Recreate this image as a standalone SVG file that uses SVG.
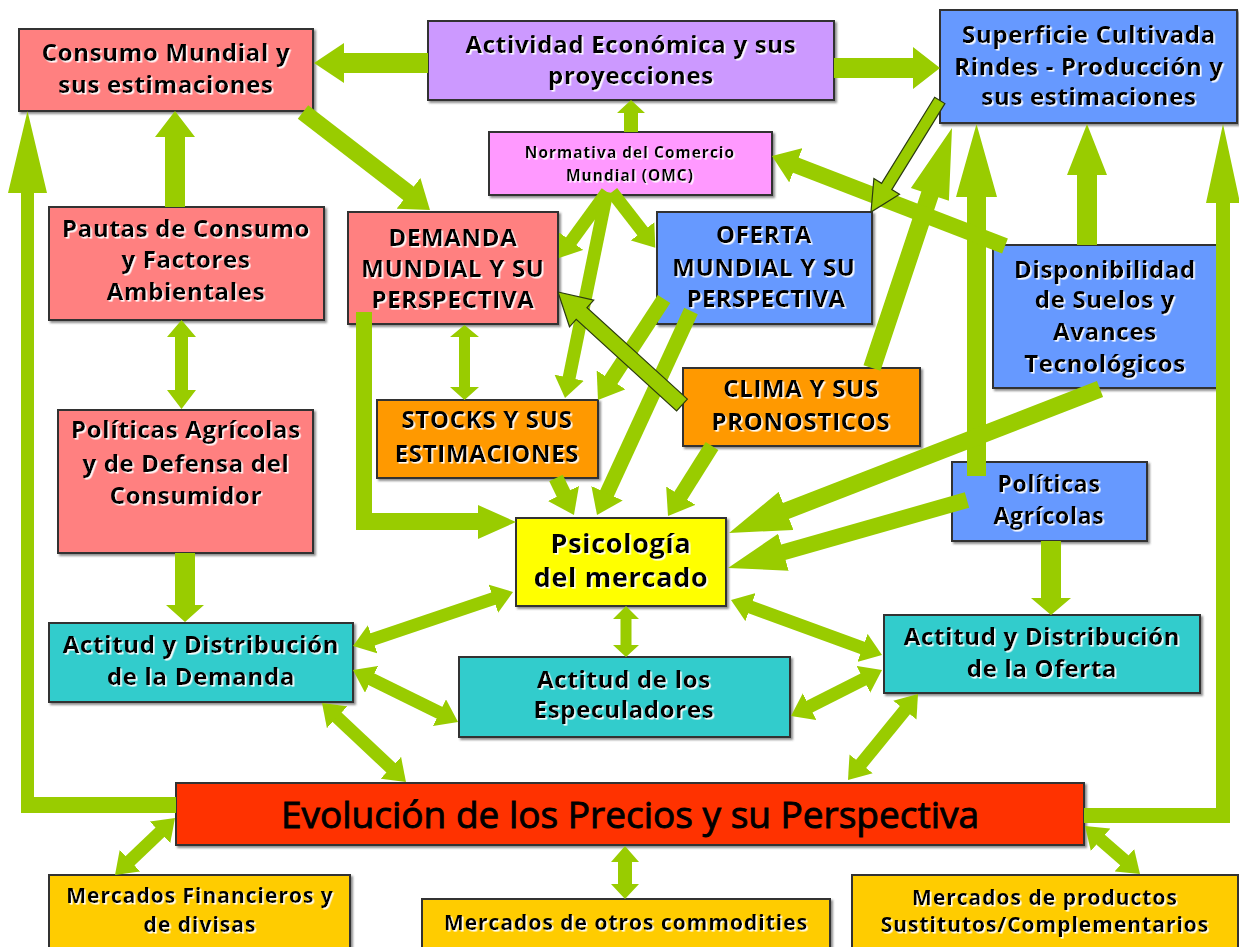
<svg xmlns="http://www.w3.org/2000/svg" width="1239" height="947" viewBox="0 0 1239 947">
<defs>
<style>
.b{stroke:#333;stroke-width:2}
.t{font-family:"Open Sans","Liberation Sans",sans-serif;font-weight:bold;fill:#000;text-anchor:middle;filter:url(#ts);font-size:24px;letter-spacing:0.7px}
.s{font-size:21px;letter-spacing:1px}
.c{stroke:#99CC00;fill:none;stroke-linecap:butt}
.p{fill:#99CC00;stroke:none}
.po{fill:#99CC00;stroke:#2a3a10;stroke-width:1.2;stroke-linejoin:miter}
.pink{fill:#FF8080}.purp{fill:#CC99FF}.blue{fill:#6699FF}.mag{fill:#FF99FF}.org{fill:#FF9900}.yel{fill:#FFFF00}.teal{fill:#33CCCC}.red{fill:#FF3300}.gold{fill:#FFCC00}
</style>
<filter id="ts" x="-5%" y="-20%" width="115%" height="150%"><feDropShadow dx="1.6" dy="1.6" stdDeviation="0.4" flood-color="#ffffff" flood-opacity="0.95"/></filter>
<filter id="bs" x="-5%" y="-5%" width="115%" height="120%"><feDropShadow dx="2" dy="2" stdDeviation="0.8" flood-color="#444" flood-opacity="0.6"/></filter>
<marker id="h" viewBox="0 0 1.6 2.3" markerUnits="strokeWidth" markerWidth="1.6" markerHeight="2.3" refX="0.6" refY="1.15" orient="auto-start-reverse"><path d="M0,0 L1.6,1.15 L0,2.3 Z" fill="#99CC00"/></marker>
<marker id="hl" viewBox="0 0 3.6 2.4" markerUnits="strokeWidth" markerWidth="3.6" markerHeight="2.4" refX="1.5" refY="1.2" orient="auto"><path d="M0,0 L3.6,1.2 L0,2.4 Z" fill="#99CC00"/></marker>
</defs>
<rect width="1239" height="947" fill="#fff"/>

<g id="n-consumo"><rect class="b pink" filter="url(#bs)" x="19" y="29" width="294" height="82"/><text class="t" x="166" y="61">Consumo Mundial y</text><text class="t" x="166" y="93">sus estimaciones</text></g>
<g id="n-actividad"><rect class="b purp" filter="url(#bs)" x="428" y="21" width="406" height="79"/><text class="t" x="631" y="53">Actividad Económica y sus</text><text class="t" x="631" y="84">proyecciones</text></g>
<g id="n-superficie"><rect class="b blue" filter="url(#bs)" x="940" y="10" width="297" height="113"/><text class="t" x="1089" y="43">Superficie Cultivada</text><text class="t" x="1089" y="75">Rindes - Producción y</text><text class="t" x="1089" y="105">sus estimaciones</text></g>
<g id="n-normativa"><rect class="b mag" filter="url(#bs)" x="489" y="132" width="283" height="63"/><text class="t" x="630" y="158" style="font-size:15.5px;letter-spacing:1px">Normativa del Comercio</text><text class="t" x="630" y="181" style="font-size:15.5px;letter-spacing:1px">Mundial (OMC)</text></g>
<g id="n-pautas"><rect class="b pink" filter="url(#bs)" x="49" y="207" width="275" height="113"/><text class="t" x="186" y="237">Pautas de Consumo</text><text class="t" x="186" y="268">y Factores</text><text class="t" x="186" y="300">Ambientales</text></g>
<g id="n-demanda"><rect class="b pink" filter="url(#bs)" x="348" y="212" width="210" height="112"/><text class="t" x="453" y="246">DEMANDA</text><text class="t" x="453" y="277">MUNDIAL Y SU</text><text class="t" x="453" y="308">PERSPECTIVA</text></g>
<g id="n-oferta"><rect class="b blue" filter="url(#bs)" x="657" y="212" width="215" height="112"/><text class="t" x="764" y="243">OFERTA</text><text class="t" x="764" y="276">MUNDIAL Y SU</text><text class="t" x="766" y="307" style="letter-spacing:0.3px">PERSPECTIVA</text></g>
<g id="n-disponibilidad"><rect class="b blue" filter="url(#bs)" x="993" y="245" width="224" height="143"/><text class="t" x="1105" y="278">Disponibilidad</text><text class="t" x="1105" y="308">de Suelos y</text><text class="t" x="1105" y="340">Avances</text><text class="t" x="1105" y="372">Tecnológicos</text></g>
<g id="n-stocks"><rect class="b org" filter="url(#bs)" x="377" y="400" width="221" height="78"/><text class="t" x="487" y="428">STOCKS Y SUS</text><text class="t" x="487" y="462">ESTIMACIONES</text></g>
<g id="n-clima"><rect class="b org" filter="url(#bs)" x="683" y="368" width="237" height="78"/><text class="t" x="801" y="397">CLIMA Y SUS</text><text class="t" x="801" y="430">PRONOSTICOS</text></g>
<g id="n-politicas-consumidor"><rect class="b pink" filter="url(#bs)" x="58" y="410" width="255" height="143"/><text class="t" x="186" y="438">Políticas Agrícolas</text><text class="t" x="186" y="472">y de Defensa del</text><text class="t" x="186" y="504">Consumidor</text></g>
<g id="n-psicologia"><rect class="b yel" filter="url(#bs)" x="516" y="518" width="210" height="88"/><text class="t" x="621" y="553" style="font-size:27px">Psicología</text><text class="t" x="621" y="587" style="font-size:27px">del mercado</text></g>
<g id="n-politicas-agricolas"><rect class="b blue" filter="url(#bs)" x="952" y="462" width="195" height="79"/><text class="t" x="1049" y="492" style="font-size:23px">Políticas</text><text class="t" x="1049" y="524" style="font-size:23px">Agrícolas</text></g>
<g id="n-actitud-demanda"><rect class="b teal" filter="url(#bs)" x="49" y="623" width="304" height="79"/><text class="t" x="201" y="653">Actitud y Distribución</text><text class="t" x="201" y="685">de la Demanda</text></g>
<g id="n-especuladores"><rect class="b teal" filter="url(#bs)" x="459" y="657" width="331" height="80"/><text class="t" x="624" y="688">Actitud de los</text><text class="t" x="624" y="718">Especuladores</text></g>
<g id="n-actitud-oferta"><rect class="b teal" filter="url(#bs)" x="884" y="615" width="316" height="78"/><text class="t" x="1042" y="645">Actitud y Distribución</text><text class="t" x="1042" y="677">de la Oferta</text></g>
<g id="n-evolucion"><rect class="b red" filter="url(#bs)" x="176" y="783" width="908" height="62"/><text class="t" x="630" y="828" style="font-size:37px;font-weight:normal;letter-spacing:0;stroke:#000;stroke-width:0.9;filter:none">Evolución de los Precios y su Perspectiva</text></g>
<g id="n-financieros"><rect class="b gold" filter="url(#bs)" x="49" y="875" width="301" height="80"/><text class="t s" x="200" y="903">Mercados Financieros y</text><text class="t s" x="200" y="932">de divisas</text></g>
<g id="n-commodities"><rect class="b gold" filter="url(#bs)" x="422" y="899" width="408" height="56"/><text class="t s" x="626" y="930">Mercados de otros commodities</text></g>
<g id="n-sustitutos"><rect class="b gold" filter="url(#bs)" x="852" y="875" width="386" height="80"/><text class="t s" x="1045" y="905">Mercados de productos</text><text class="t s" x="1045" y="932">Sustitutos/Complementarios</text></g>

<g id="connectors">
<polygon class="p" points="428,53 344,53 344,43 314,63 344,83 344,73 428,73"/>
<polygon class="p" points="834,58 913,58 913,47 940,68 913,89 913,78 834,78"/>
<polygon class="p" points="624,132 624,113 617,113 631,100 645,113 638,113 638,132"/>
<polygon class="p" points="165,207 165,137 155,137 175,111 195,137 185,137 185,207"/>
<polygon class="p" points="176,797 34,797 34,193 47,193 27.5,111 8,193 21,193 21,813 176,813"/>
<polygon class="p" points="1084,808 1216,808 1216,203 1206,203 1223,124 1240,203 1230,203 1230,823 1084,823"/>
<polygon class="p" points="1077,245 1077,175 1067,175 1087,124 1107,175 1097,175 1097,245"/>
<polygon class="p" points="967,476 967,197 956,197 976.5,124 997,197 986,197 986,476"/>
<polygon class="p" points="880.5,370.8 938.4,197.2 948.9,200.7 952,128 910.9,188.1 921.4,191.6 863.5,365.2"/>
<polygon class="p" points="175,337 167,337 181.5,320 196,337 188,337 188,390 196,390 181.5,409 167,390 175,390"/>
<polygon class="p" points="175,553 195,553 195,605 204,605 185,622 166,605 175,605"/>
<polygon class="p" points="459,337 450,337 464.5,325 479,337 470,337 470,387 479,387 464.5,400 450,387 459,387"/>
<polygon class="p" points="620.5,619 613,619 626,606 639,619 631.5,619 631.5,645 639,645 626,657 613,645 620.5,645"/>
<polygon class="p" points="618,862 611,862 625,846 639,862 632,862 632,884 639,884 625,899 611,884 618,884"/>
<polygon class="p" points="1041,541 1061,541 1061,598 1071,598 1051,615 1031,598 1041,598"/>
<polygon class="p" points="356,312 372,312 372,513 478,513 478,505 516,522 478,539 478,530 356,530"/>
<line class="c" stroke-width="17" marker-end="url(#h)" x1="303" y1="112" x2="416.5" y2="199.6"/>
<line class="c" stroke-width="13" marker-end="url(#h)" x1="607" y1="192" x2="566.6" y2="247.5"/>
<line class="c" stroke-width="13" marker-end="url(#h)" x1="612" y1="192" x2="647.3" y2="237.5"/>
<line class="c" stroke-width="13" marker-end="url(#h)" x1="607" y1="192" x2="567.6" y2="385.3"/>
<line class="c" stroke-width="15" marker-end="url(#h)" x1="664" y1="299" x2="606.2" y2="387.4"/>
<line class="c" stroke-width="15" marker-end="url(#h)" x1="691" y1="311" x2="603.3" y2="501.4"/>
<line class="c" stroke-width="15" marker-end="url(#h)" x1="556" y1="478" x2="567.4" y2="501.5"/>
<line class="c" stroke-width="15" marker-end="url(#h)" x1="712" y1="446" x2="676" y2="503.3"/>
<line class="c" stroke-width="16" marker-end="url(#h)" x1="1005" y1="246" x2="786.9" y2="161.8"/>
<line class="c" stroke-width="17" marker-end="url(#hl)" x1="1100" y1="389" x2="762.3" y2="520.1"/>
<line class="c" stroke-width="16" marker-end="url(#hl)" x1="967" y1="500" x2="760.3" y2="558.8"/>
<polygon class="po" points="944.9,103.6 891.8,189.6 899.5,194.3 871,212 873.9,178.5 881.6,183.3 934.7,97.3"/>
<polygon class="po" points="687.4,399.1 587,307.6 593.7,300.2 558,292 569.5,326.8 576.2,319.4 676.6,410.9"/>
<line class="c" stroke-width="13" marker-start="url(#h)" marker-end="url(#h)" x1="365.3" y1="641.8" x2="500.7" y2="596.2"/>
<line class="c" stroke-width="13" marker-start="url(#h)" marker-end="url(#h)" x1="743.2" y1="604.4" x2="869.8" y2="650.6"/>
<line class="c" stroke-width="13" marker-start="url(#h)" marker-end="url(#h)" x1="364.6" y1="675.8" x2="446.4" y2="716.2"/>
<line class="c" stroke-width="13" marker-start="url(#h)" marker-end="url(#h)" x1="802.6" y1="710.1" x2="870.4" y2="675.9"/>
<line class="c" stroke-width="13" marker-start="url(#h)" marker-end="url(#h)" x1="331.5" y1="711.9" x2="396.5" y2="773.1"/>
<line class="c" stroke-width="13" marker-start="url(#h)" marker-end="url(#h)" x1="909.8" y1="704.1" x2="856.2" y2="769.9"/>
<line class="c" stroke-width="13" marker-start="url(#h)" marker-end="url(#h)" x1="165.6" y1="826.9" x2="124.4" y2="866.1"/>
<line class="c" stroke-width="13" marker-start="url(#h)" marker-end="url(#h)" x1="1094.8" y1="834.6" x2="1130.2" y2="865.4"/>
</g>
</svg>
